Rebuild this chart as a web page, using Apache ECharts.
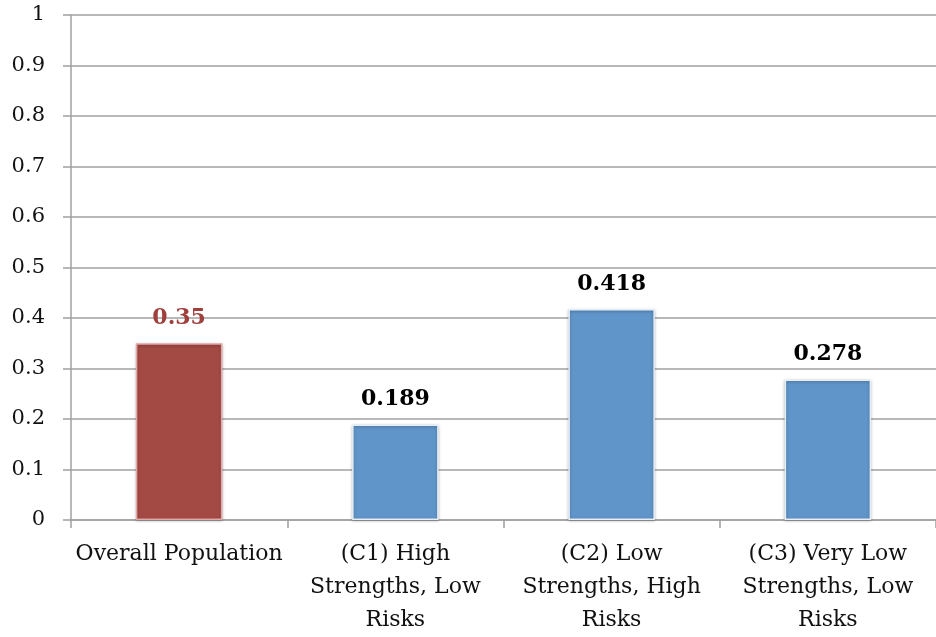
<!DOCTYPE html>
<html>
<head>
<meta charset="utf-8">
<script src="https://cdn.jsdelivr.net/npm/echarts@6/dist/echarts.min.js"></script>
<style>html,body{margin:0;padding:0;background:#fff}#c{width:936px;height:637px}</style>
</head>
<body>
<div id="c"></div>
<script>
const categories = [
  "Overall Population",
  "(C1) High\nStrengths, Low\nRisks",
  "(C2) Low\nStrengths, High\nRisks",
  "(C3) Very Low\nStrengths, Low\nRisks"
];
const values = [0.35, 0.189, 0.418, 0.278];
const yTicks = { min: 0, max: 1, interval: 0.1 };

const FONT = "DejaVu Serif";
const chart = echarts.init(document.getElementById('c'), null, { renderer: 'canvas' });

const data = values.map((v, i) => {
  const red = i === 0;
  return {
    value: v,
    itemStyle: {
      color: red ? '#A44A45' : '#6095C9',
      borderColor: red ? '#E3A8A6' : '#E6EEF7',
      borderWidth: 1.5,
      shadowBlur: 3,
      shadowColor: 'rgba(0,0,0,0.3)',
      shadowOffsetY: 1
    },
    label: { color: red ? '#A0403D' : '#000' }
  };
});

chart.setOption({
  animation: false,
  grid: { left: 71, width: 872, top: 15, bottom: 116, containLabel: false },
  xAxis: {
    type: 'category',
    data: categories,
    axisLine: { lineStyle: { color: '#a0a0a0', width: 1.5 } },
    axisTick: { show: true, length: 8, alignWithLabel: false, lineStyle: { color: '#a0a0a0', width: 1.5 } },
    axisLabel: { fontFamily: FONT, fontSize: 22, color: '#111', lineHeight: 33, margin: 18, interval: 0 }
  },
  yAxis: {
    type: 'value',
    min: yTicks.min, max: yTicks.max, interval: yTicks.interval,
    axisLine: { show: true, lineStyle: { color: '#a0a0a0', width: 1.5 } },
    axisTick: { show: true, length: 8, lineStyle: { color: '#a0a0a0', width: 1.5 } },
    splitLine: { show: true, lineStyle: { color: '#a0a0a0', width: 1.5 } },
    axisLabel: { fontFamily: FONT, fontSize: 21, color: '#111', margin: 26,
      formatter: v => String(Math.round(v * 10) / 10) }
  },
  series: [{
    type: 'bar',
    data: data,
    barWidth: '40%',
    label: { show: true, position: 'top', distance: 14, fontFamily: FONT, fontWeight: 'bold', fontSize: 22,
      formatter: p => String(p.value) }
  }]
});
</script>
</body>
</html>
